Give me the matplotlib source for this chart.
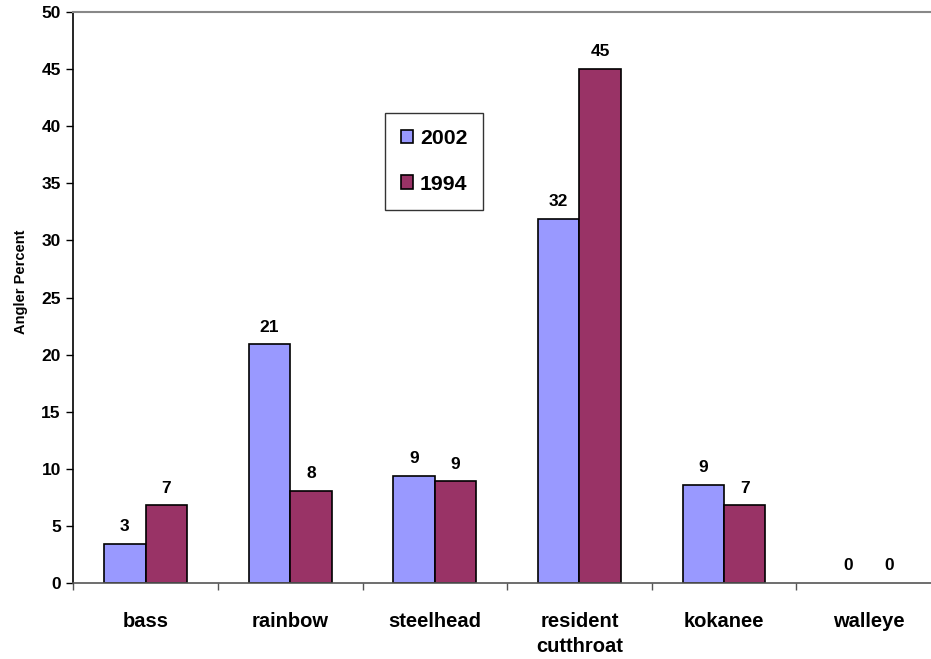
import matplotlib.pyplot as plt
import numpy as np

plt.rcParams['font.family'] = ['Liberation Sans', 'DejaVu Sans']
plt.rcParams['font.weight'] = 'bold'

species = ['bass', 'rainbow', 'steelhead', 'resident\ncutthroat', 'kokanee', 'walleye']
pct_2002 = [3.4, 20.9, 9.4, 31.9, 8.6, 0.0]
pct_1994 = [6.8, 8.1, 8.9, 45.0, 6.8, 0.0]
years = ['2002', '1994']
colors = ['#9999FF', '#993366']

fig = plt.figure(figsize=(9.31, 6.59), dpi=100)
ax = fig.add_axes([0.0787, 0.1153, 0.932, 0.8665])

x = np.arange(len(species))
w = 0.286
b1 = ax.bar(x - w/2, pct_2002, w, color=colors[0], edgecolor='black', linewidth=1.2, label=years[0])
b2 = ax.bar(x + w/2, pct_1994, w, color=colors[1], edgecolor='black', linewidth=1.2, label=years[1])

# zero-height bars would otherwise leave an outline along the axis
for rect in list(b1) + list(b2):
    if rect.get_height() == 0:
        rect.set_linewidth(0)

for bars, vals in ((b1, pct_2002), (b2, pct_1994)):
    for rect, v in zip(bars, vals):
        ax.annotate('%.0f' % v, (rect.get_x() + rect.get_width()/2, v),
                    xytext=(0, 7), textcoords='offset points',
                    ha='center', va='bottom', fontsize=12.5, fontweight='bold')

ax.set_xlim(-0.5, len(species) - 0.5)
ax.set_ylim(0, 50)
ax.set_yticks(np.arange(0, 51, 5))
ax.set_ylabel('Angler Percent', fontsize=10.5, fontweight='bold')
ax.yaxis.set_label_coords(-0.052, 0.527)

# labels at category centres, tick marks on the boundaries
ax.set_xticks(x)
ax.set_xticklabels(species, fontsize=14.5, fontweight='bold', linespacing=1.4)
ax.tick_params(axis='x', which='major', length=0, pad=21)
ax.set_xticks(np.arange(len(species)) - 0.5, minor=True)
ax.tick_params(axis='x', which='minor', length=5, color='#555555', width=1)
ax.tick_params(axis='y', length=5, width=1, labelsize=12.5, pad=4)

ax.spines['right'].set_visible(False)
ax.spines['top'].set_color('#888888')
ax.spines['top'].set_linewidth(1.5)
ax.spines['left'].set_linewidth(1.2)
ax.spines['bottom'].set_color('#555555')
ax.spines['bottom'].set_linewidth(1.2)

leg = ax.legend(loc='upper left', bbox_to_anchor=(0.359, 0.823), fontsize=15.3,
                frameon=True, fancybox=False, edgecolor='black', handlelength=0.6,
                handleheight=0.6, handletextpad=0.3, labelspacing=1.25,
                borderpad=0.75, borderaxespad=0)
leg.get_frame().set_linewidth(1)
for t in leg.get_texts():
    t.set_fontweight('bold')

fig.savefig('out.png', dpi=100)
